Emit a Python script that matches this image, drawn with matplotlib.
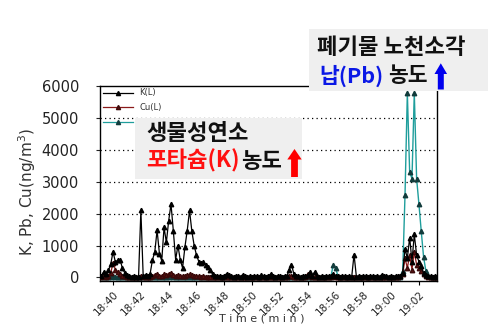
import numpy as np
import matplotlib
matplotlib.use("Agg")
import matplotlib.pyplot as plt
from matplotlib.patches import Rectangle, Polygon
from matplotlib.lines import Line2D

# ---------------- data (10-second samples, first sample 18:39:10) ----------------
start_min = 39 + 10 / 60      # minutes after 18:00
step_min = 10 / 60

K = [
    60, 180, 120, 220, 420,                 # 18:39:10-50
    810, 480, 540, 560, 300, 150,           # 18:40
    90, 50, 30, 40, 30, 20,                 # 18:41
    2100, 40, 90, 60, 120, 550,             # 18:42
    800, 1480, 750, 520, 1570, 1100,        # 18:43
    1780, 2300, 1470, 560, 1000, 550,       # 18:44
    300, 950, 1470, 2100, 1450, 1000,       # 18:45
    700, 500, 440, 470, 380, 320,           # 18:46
    220, 100, 60, 40, 50, 30,               # 18:47
    60, 120, 80, 40, 30, 60,                # 18:48
    40, 30, 90, 50, 30, 40,                 # 18:49
    30, 60, 40, 30, 70, 40,                 # 18:50
    30, 50, 110, 40, 30, 50,                # 18:51
    40, 30, 60, 40, 250, 400,               # 18:52
    120, 50, 40, 30, 60, 40,                # 18:53
    80, 170, 60, 170, 40, 30,               # 18:54
    50, 30, 40, 60, 40, 120,                # 18:55
    60, 40, 30, 50, 40, 30,                 # 18:56
    40, 30, 720, 30, 40, 30,                # 18:57
    50, 40, 30, 60, 40, 30,                 # 18:58
    40, 30, 90, 50, 40, 30,                 # 18:59
    40, 30, 50, 40, 60, 150,                # 19:00
    900, 600, 1250, 500, 1350, 700,         # 19:01
    500, 350, 150, 80, 50, 40,              # 19:02
    30, 40, 30,                             # 19:03
]

Cu = [
    20, 40, 30, 60, 150,
    450, 250, 180, 120, 60, 40,
    30, 20, 20, 30, 20, 20,
    60, 30, 20, 30, 20, 60,
    80, 120, 60, 50, 100, 80,
    120, 150, 90, 60, 70, 50,
    40, 60, 80, 100, 70, 60,
    50, 40, 30, 40, 30, 20,
    30, 20, 30, 20, 20, 30,
    20, 30, 20, 20, 30, 20,
    20, 20, 30, 20, 20, 20,
    20, 30, 20, 20, 30, 20,
    20, 20, 30, 20, 20, 30,
    20, 20, 30, 20, 40, 60,
    30, 30, 20, 20, 20, 30,
    120, 40, 30, 20, 20, 20,
    20, 20, 30, 20, 20, 40,
    30, 20, 20, 20, 30, 20,
    20, 20, 30, 20, 20, 20,
    20, 30, 20, 20, 20, 20,
    20, 20, 30, 20, 20, 20,
    20, 30, 20, 30, 40, 100,
    600, 300, 700, 250, 800, 400,
    300, 200, 100, 40, 30, 20,
    20, 20, 20,
]

Pb = [
    10, 20, 10, 20, 30,
    40, 20, 20, 10, 20, 10,
    10, 10, 20, 10, 10, 10,
    20, 10, 10, 20, 10, 20,
    20, 30, 20, 20, 30, 20,
    30, 40, 20, 20, 30, 20,
    20, 20, 30, 30, 20, 20,
    20, 20, 10, 20, 10, 10,
    10, 10, 20, 10, 10, 10,
    10, 20, 10, 10, 20, 10,
    10, 10, 20, 10, 10, 10,
    10, 20, 10, 10, 20, 10,
    10, 10, 20, 10, 10, 20,
    10, 10, 20, 10, 20, 30,
    20, 20, 10, 10, 10, 20,
    30, 20, 20, 10, 10, 10,
    20, 30, 20, 20, 30, 380,
    300, 60, 20, 10, 20, 10,
    10, 10, 20, 10, 10, 10,
    10, 20, 10, 10, 10, 10,
    10, 10, 20, 10, 10, 10,
    20, 20, 30, 20, 30, 200,
    2600, 5780, 3300, 3100, 5780, 3100,
    2300, 1450, 650, 200, 60, 30,
    20, 20, 20,
]

tick_minutes = [40, 42, 44, 46, 48, 50, 52, 54, 56, 58, 60, 62]
tick_labels = ["18:40", "18:42", "18:44", "18:46", "18:48", "18:50",
               "18:52", "18:54", "18:56", "18:58", "19:00", "19:02"]
y_ticks = [0, 1000, 2000, 3000, 4000, 5000, 6000]
legend_labels = ["K(L)", "Cu(L)", "Pb(L)"]

# ---------------- figure ----------------
W, H = 495, 335
fig = plt.figure(figsize=(W / 100, H / 100), dpi=100)
fig.patch.set_facecolor("white")


def fx(x):
    return x / W


def fy(y):
    return 1 - y / H


ax = fig.add_axes([fx(100), fy(281), 337 / W, 195 / H])

t = start_min + np.arange(len(K)) * step_min

c_k, c_cu, c_pb = "black", "#8b1a1a", "#1f9e9c"
ax.plot(t, Pb, color=c_pb, lw=1.0, marker="^", ms=3.2, mfc="#123c3c",
        mec="#123c3c", zorder=3)
ax.plot(t, Cu, color=c_cu, lw=0.9, marker="^", ms=3.2, mfc="#5a0f0f",
        mec="#3a0a0a", zorder=4)
ax.plot(t, K, color=c_k, lw=0.9, marker="^", ms=3.2, mfc="black",
        mec="black", zorder=5)

ax.set_xlim(39.06, 63.3)
ax.set_ylim(-110, 6000)
ax.set_yticks(y_ticks)
ax.set_xticks(tick_minutes)
ax.set_xticklabels(tick_labels, rotation=45, ha="right", rotation_mode="anchor",
                   fontsize=7.5, color="#222222", family="DejaVu Sans")
ax.tick_params(axis="x", length=3, width=0.8, pad=3)
ax.tick_params(axis="y", length=3, width=0.8, labelsize=10.5, colors="#222222",
               pad=12)
for lab in ax.get_yticklabels():
    lab.set_family("DejaVu Sans")

for yv in y_ticks[1:-1]:
    ax.axhline(yv, color="black", lw=0.9, ls=(0, (1, 2.6)), zorder=1)

for sp in ax.spines.values():
    sp.set_linewidth(1.0)
    sp.set_color("black")

fig.text(fx(27), fy(191.7), "K, Pb, Cu(ng/m$^3$)", fontsize=11,
         color="#333333", family="DejaVu Sans", rotation=90,
         ha="center", va="center")

fig.text(fx(262), fy(318.5), "T i m e ( m i n )", fontsize=8, color="#333333",
         ha="center", va="center", family="DejaVu Sans")

handles = [
    Line2D([], [], color=c_k, lw=0.9, marker="^", ms=3, mfc="black", mec="black"),
    Line2D([], [], color=c_cu, lw=0.9, marker="^", ms=3, mfc="#5a0f0f", mec="#3a0a0a"),
    Line2D([], [], color=c_pb, lw=0.9, marker="^", ms=3, mfc="#123c3c", mec="#123c3c"),
]
leg = ax.legend(handles, legend_labels, loc="upper left",
                bbox_to_anchor=(0.0, 1.0), frameon=False, fontsize=6,
                handlelength=3.6, labelspacing=0.7, handletextpad=0.8,
                borderaxespad=0.0, borderpad=0.3)
for txt in leg.get_texts():
    txt.set_color("#333333")
leg.set_zorder(6)

# ---------------- annotation boxes ----------------
kfont = dict(family=["Noto Sans CJK KR", "DejaVu Sans"], weight="bold",
             fontsize=16)
kfont2 = dict(kfont, fontsize=15.5)
box_color = "#efefef"

fig.add_artist(Rectangle((fx(135), fy(179)), 167 / W, 61 / H,
                         transform=fig.transFigure, facecolor=box_color,
                         edgecolor="none", zorder=10))
fig.add_artist(Rectangle((fx(309), fy(91)), 179 / W, 62 / H,
                         transform=fig.transFigure, facecolor=box_color,
                         edgecolor="none", zorder=10))

fig.text(fx(146), fy(133), "생물성연소", color="#111111", ha="left",
         va="center", zorder=11, **kfont)
fig.text(fx(146), fy(161), "포타슘(K)", color="#ff1010", ha="left",
         va="center", zorder=11, **kfont)
fig.text(fx(241), fy(161), "농도", color="#111111", ha="left",
         va="center", zorder=11, **kfont)

fig.text(fx(317), fy(47), "폐기물 노천소각", color="#111111", ha="left",
         va="center", zorder=11, **kfont)
fig.text(fx(319), fy(76), "납(Pb)", color="#0a18e6", ha="left",
         va="center", zorder=11, **kfont2)
fig.text(fx(388), fy(76), "농도", color="#111111", ha="left",
         va="center", zorder=11, **kfont2)


def up_arrow(xc, y_top, y_head, y_bot, shaft_half, head_half, color):
    pts = [(xc, y_top), (xc + head_half, y_head), (xc + shaft_half, y_head),
           (xc + shaft_half, y_bot), (xc - shaft_half, y_bot),
           (xc - shaft_half, y_head), (xc - head_half, y_head)]
    fig.add_artist(Polygon([(fx(a), fy(b)) for a, b in pts], closed=True,
                           transform=fig.transFigure, facecolor=color,
                           edgecolor="none", zorder=12))


up_arrow(294.5, 149, 159.5, 177, 3.4, 7.2, "#ff0000")
up_arrow(440.8, 63.3, 74, 89.5, 3.0, 6.3, "#0000ee")

fig.savefig("out.png", dpi=100)
